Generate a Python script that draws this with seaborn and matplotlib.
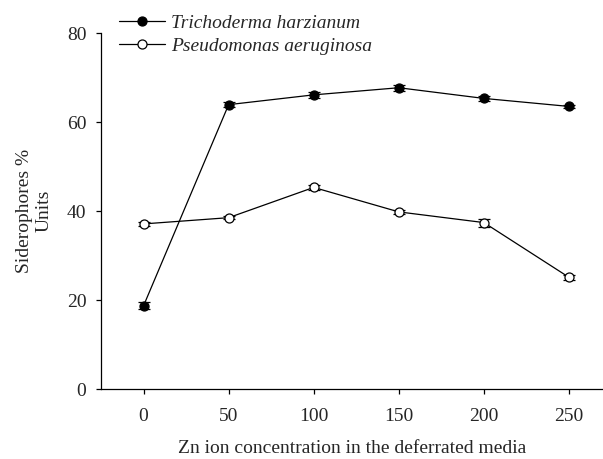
import numpy as np
import pandas as pd
import matplotlib
matplotlib.use("Agg")
import matplotlib.pyplot as plt
import seaborn as sns

zn = [0, 50, 100, 150, 200, 250]
trich = [18.7, 63.9, 66.1, 67.7, 65.3, 63.5]
trich_err = [0.8, 0.5, 0.6, 0.7, 0.5, 0.4]
pseudo = [37.1, 38.5, 45.3, 39.8, 37.4, 25.1]
pseudo_err = [0.4, 0.4, 0.5, 0.4, 0.9, 0.5]
series_names = ["Trichoderma harzianum", "Pseudomonas aeruginosa"]
xticks = [0, 50, 100, 150, 200, 250]
yticks = [0, 20, 40, 60, 80]

sns.set_style("ticks")
plt.rcParams['font.family'] = ['Liberation Serif', 'DejaVu Serif']

fig = plt.figure(figsize=(6.03, 4.59), dpi=100)
ax = fig.add_axes([0.1675, 0.1525, 0.8325, 0.7756])

df = pd.DataFrame({
    'zn': zn * 2,
    'val': trich + pseudo,
    'err': trich_err + pseudo_err,
    'series': [series_names[0]] * len(zn) + [series_names[1]] * len(zn),
})

face = {series_names[0]: 'black', series_names[1]: 'white'}
for name, sub in df.groupby('series', sort=False):
    ax.errorbar(sub['zn'], sub['val'], yerr=sub['err'], fmt='none',
                ecolor='black', elinewidth=0.9, capsize=4, capthick=0.9, zorder=2)
    sns.lineplot(data=sub, x='zn', y='val', ax=ax, color='black', linewidth=0.9,
                 marker='o', markersize=6.5, markerfacecolor=face[name],
                 markeredgecolor='black', markeredgewidth=0.9, label=name,
                 errorbar=None, zorder=3)

ax.set_xlim(-25, 270)
ax.set_ylim(0, 80)
ax.set_xticks(xticks)
ax.set_yticks(yticks)
ax.tick_params(labelsize=14, length=3.5, width=0.9, color='black', pad=7)
ax.tick_params(axis='x', pad=10)
for s in ['left', 'bottom']:
    ax.spines[s].set_linewidth(0.9)
    ax.spines[s].set_color('black')
sns.despine(ax=ax)

ax.set_xlabel("Zn ion concentration in the deferrated media", fontsize=14, labelpad=11)
ax.set_ylabel("Siderophores %\nUnits", fontsize=14, labelpad=10, linespacing=1.2)

ax.legend(loc='upper left', bbox_to_anchor=(0.197, 0.968), bbox_transform=fig.transFigure,
          frameon=False, prop={'style': 'italic', 'size': 14},
          handlelength=2.4, handletextpad=0.3, labelspacing=0.25, borderpad=0,
          borderaxespad=0)

fig.savefig("out.png", dpi=100)
